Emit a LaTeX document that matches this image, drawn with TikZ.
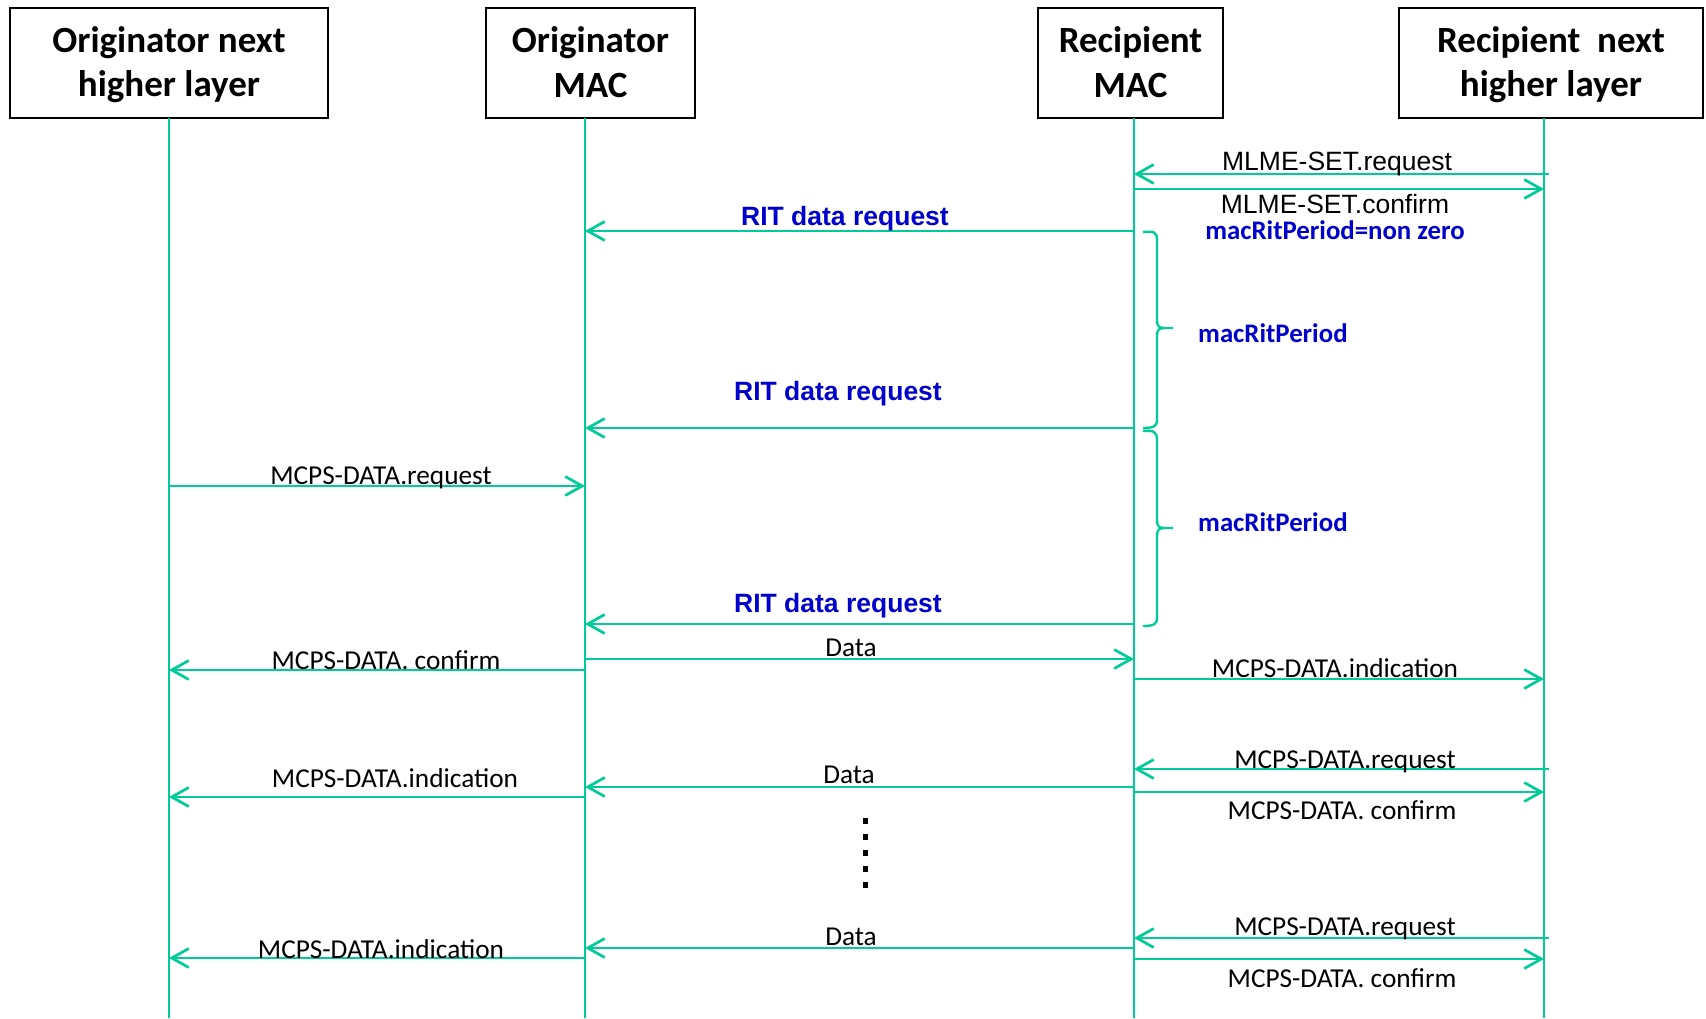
\documentclass[tikz,border=0pt]{standalone}
\usepackage{fontspec}
\setmainfont{Carlito}
\newfontfamily\arialf{Liberation Sans}
\usetikzlibrary{arrows.meta}
\definecolor{lg}{RGB}{0,204,153}
\definecolor{lblue}{RGB}{0,0,204}
\begin{document}
\begin{tikzpicture}[x=1pt,y=-1pt,
 hdr/.style={draw=black,line width=2pt,inner sep=0pt},
 hdrtext/.style={align=center,inner sep=0pt,font=\bfseries\fontsize{37}{44.6}\selectfont},
 life/.style={draw=lg,line width=2.2pt},
 msg/.style={draw=lg,line width=2.7pt,-{Straight Barb[length=17pt,width=19pt]}},
 lab/.style={anchor=base,inner sep=0pt,font=\fontsize{27.3}{30}\selectfont},
 alab/.style={anchor=base,inner sep=0pt,font=\arialf\fontsize{26.5}{30}\selectfont},
 rit/.style={anchor=base,inner sep=0pt,text=lblue,font=\arialf\bfseries\fontsize{26.5}{30}\selectfont},
 mrp/.style={anchor=base,inner sep=0pt,text=lblue,font=\bfseries\fontsize{26.8}{30}\selectfont},
 brc/.style={draw=lg,line width=2.4pt},
 dotbox/.style={fill=black},
]
\useasboundingbox (0,0) rectangle (1706,1018);
\fill[white] (0,0) rectangle (1706,1018);

% header boxes
\node[hdr,minimum width=318pt,minimum height=110pt] (h1) at (169,63) {};
\node[hdr,minimum width=209pt,minimum height=110pt] (h2) at (590.5,63) {};
\node[hdr,minimum width=185pt,minimum height=110pt] (h3) at (1130.5,63) {};
\node[hdr,minimum width=304pt,minimum height=110pt] (h4) at (1551,63) {};
\node[hdrtext] (h1t) at ([yshift=-1.5pt]h1.center) {Originator next\\higher layer};
\node[hdrtext] (h2t) at ([yshift=1pt]h2.center) {Originator\\MAC};
\node[hdrtext] (h3t) at ([yshift=1pt]h3.center) {Recipient\\MAC};
\node[hdrtext] (h4t) at ([yshift=-1.5pt]h4.center) {Recipient\ \ next\\higher layer};

% lifelines
\coordinate (L1) at (169,118);
\coordinate (L2) at (585,118);
\coordinate (L3) at (1134,118);
\coordinate (L4) at (1544,118);
\coordinate (R4) at (1549,118);
\coordinate (B1) at (169,1018);
\coordinate (B2) at (585,1018);
\coordinate (B3) at (1134,1018);
\coordinate (B4) at (1544,1018);
\draw[life] (L1) -- (B1);
\draw[life] (L2) -- (B2);
\draw[life] (L3) -- (B3);
\draw[life] (L4) -- (B4);

% MLME-SET
\draw[msg] (R4 |- 0,174) -- (L3 |- 0,174);
\draw[msg] (L3 |- 0,189) -- (L4 |- 0,189);
\node[alab] (t1) at (1337,170) {MLME-SET.request};
\node[alab] (t2) at (1335,213) {MLME-SET.confirm};
\node[mrp] (t3) at (1335,239) {macRitPeriod=non zero};

% RIT data requests
\draw[msg] (L3 |- 0,231) -- (L2 |- 0,231);
\node[rit] (r1) at (845,225) {RIT data request};
\draw[msg] (L3 |- 0,428) -- (L2 |- 0,428);
\node[rit] (r2) at (838,400) {RIT data request};
\draw[msg] (L3 |- 0,624) -- (L2 |- 0,624);
\node[rit] (r3) at (838,612) {RIT data request};

% braces
\draw[brc] (1143,232) .. controls (1154,231) and (1157,232) .. (1157,240) -- (1157,320)
  .. controls (1157,326) and (1159,328) .. (1164,328) -- (1173,328);
\draw[brc] (1164,328) .. controls (1159,328) and (1157,330) .. (1157,336) -- (1157,420)
  .. controls (1157,426) and (1154,428) .. (1143,428);
\draw[brc] (1143,431) .. controls (1154,430) and (1157,432) .. (1157,440) -- (1157,520)
  .. controls (1157,526) and (1159,528) .. (1164,528) -- (1173,528);
\draw[brc] (1164,528) .. controls (1159,528) and (1157,530) .. (1157,536) -- (1157,618)
  .. controls (1157,624) and (1154,626) .. (1143,626);
\node[mrp,anchor=base west] (p1) at (1198,342) {macRitPeriod};
\node[mrp,anchor=base west] (p2) at (1198,531) {macRitPeriod};

% MCPS exchange 1
\draw[msg] (L1 |- 0,486) -- (L2 |- 0,486);
\node[lab] (m1) at (381,484) {MCPS-DATA.request};
\draw[msg] (L2 |- 0,659) -- (L3 |- 0,659);
\node[lab] (d1) at (851,656) {Data};
\draw[msg] (L2 |- 0,670) -- (L1 |- 0,670);
\node[lab] (m2) at (386,669) {MCPS-DATA. confirm};
\draw[msg] (L3 |- 0,679) -- (L4 |- 0,679);
\node[lab] (m3) at (1335,677) {MCPS-DATA.indication};

% MCPS exchange 2
\draw[msg] (R4 |- 0,769) -- (L3 |- 0,769);
\node[lab] (m4) at (1345,768) {MCPS-DATA.request};
\draw[msg] (L3 |- 0,787) -- (L2 |- 0,787);
\node[lab] (d2) at (849,783) {Data};
\draw[msg] (L3 |- 0,792) -- (L4 |- 0,792);
\node[lab] (m5) at (1342,819) {MCPS-DATA. confirm};
\draw[msg] (L2 |- 0,797) -- (L1 |- 0,797);
\node[lab] (m6) at (395,787) {MCPS-DATA.indication};

% dots
\foreach \yy in {818,834,850,866,882} {
  \fill[dotbox] (862.5,\yy) rectangle +(5,6);
}

% MCPS exchange 3
\draw[msg] (R4 |- 0,938) -- (L3 |- 0,938);
\node[lab] (m7) at (1345,935) {MCPS-DATA.request};
\draw[msg] (L3 |- 0,948) -- (L2 |- 0,948);
\node[lab] (d3) at (851,945) {Data};
\draw[msg] (L3 |- 0,959) -- (L4 |- 0,959);
\node[lab] (m8) at (1342,987) {MCPS-DATA. confirm};
\draw[msg] (L2 |- 0,958) -- (L1 |- 0,958);
\node[lab] (m9) at (381,958) {MCPS-DATA.indication};
\end{tikzpicture}
\end{document}
